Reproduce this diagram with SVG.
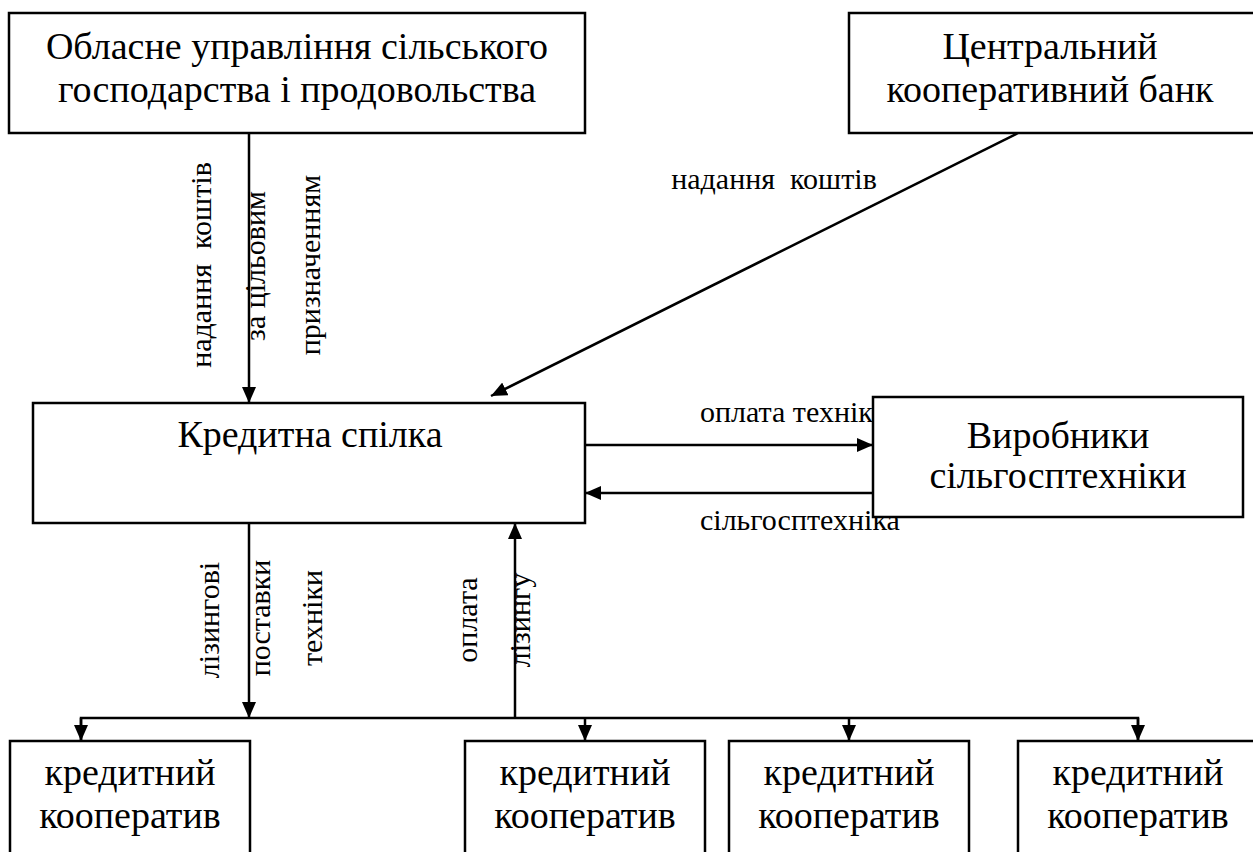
<svg xmlns="http://www.w3.org/2000/svg" width="1253" height="852" viewBox="0 0 1253 852">
<defs>
<marker id="ah" markerWidth="16" markerHeight="14" refX="16" refY="7" orient="auto" markerUnits="userSpaceOnUse">
<path d="M0,0 L16,7 L0,14 Z" fill="#000"/>
</marker>
</defs>
<style>
.box{fill:#fff;stroke:#000;stroke-width:2.5}
.t{font-family:"Liberation Serif","Times New Roman",serif;font-size:38px;fill:#000;text-anchor:middle}
.l{font-family:"Liberation Serif","Times New Roman",serif;font-size:30px;fill:#000;text-anchor:middle;white-space:pre}
.c{stroke:#000;stroke-width:2.5;fill:none}
.a{marker-end:url(#ah)}
</style>
<rect width="1253" height="852" fill="#fff"/>
<g id="connectors">
<line class="c a" x1="249" y1="133" x2="249" y2="403"/>
<line class="c a" x1="1018" y1="133" x2="491" y2="396"/>
<line class="c a" x1="585" y1="445" x2="873" y2="445"/>
<line class="c a" x1="873" y1="493" x2="585" y2="493"/>
<line class="c a" x1="249" y1="523" x2="249" y2="718"/>
<line class="c a" x1="515" y1="718" x2="515" y2="523"/>
<polyline class="c" points="81,741 81,718 1138,718 1138,741"/>
<line class="c a" x1="81" y1="718" x2="81" y2="741"/>
<line class="c a" x1="585" y1="718" x2="585" y2="741"/>
<line class="c a" x1="849" y1="718" x2="849" y2="741"/>
<line class="c a" x1="1138" y1="718" x2="1138" y2="741"/>
<text class="l" xml:space="preserve" transform="translate(211,265) rotate(-90)">надання  коштів</text>
<text class="l" transform="translate(265,266) rotate(-90)">за цільовим</text>
<text class="l" transform="translate(320,265) rotate(-90)">призначенням</text>
<text class="l" xml:space="preserve" x="774" y="189">надання  коштів</text>
<text class="l" x="700" y="422" style="text-anchor:start">оплата техніки</text>
<text class="l" x="700" y="530" style="text-anchor:start">сільгосптехніка</text>
<text class="l" transform="translate(219,620) rotate(-90)">лізингові</text>
<text class="l" transform="translate(270,618) rotate(-90)">поставки</text>
<text class="l" transform="translate(322,618) rotate(-90)">техніки</text>
<text class="l" transform="translate(477,620) rotate(-90)">оплата</text>
<text class="l" transform="translate(530,620) rotate(-90)">лізингу</text>
</g>
<g id="n-oblast">
<rect class="box" x="9" y="13" width="576" height="120"/>
<text class="t" x="297" y="59">Обласне управління сільського</text>
<text class="t" x="297" y="102">господарства і продовольства</text>
</g>
<g id="n-bank">
<rect class="box" x="849" y="13" width="420" height="120"/>
<text class="t" x="1050" y="59">Центральний</text>
<text class="t" x="1050" y="102">кооперативний банк</text>
</g>
<g id="n-spilka">
<rect class="box" x="33" y="403" width="552" height="120"/>
<text class="t" x="310" y="447">Кредитна спілка</text>
</g>
<g id="n-vyrobnyky">
<rect class="box" x="873" y="397" width="370" height="120"/>
<text class="t" x="1058" y="448">Виробники</text>
<text class="t" x="1058" y="488">сільгосптехніки</text>
</g>
<g id="n-koop1">
<rect class="box" x="10" y="741" width="240" height="130"/>
<text class="t" x="130" y="785">кредитний</text>
<text class="t" x="130" y="828">кооператив</text>
</g>
<g id="n-koop2">
<rect class="box" x="465" y="741" width="240" height="130"/>
<text class="t" x="585" y="785">кредитний</text>
<text class="t" x="585" y="828">кооператив</text>
</g>
<g id="n-koop3">
<rect class="box" x="729" y="741" width="240" height="130"/>
<text class="t" x="849" y="785">кредитний</text>
<text class="t" x="849" y="828">кооператив</text>
</g>
<g id="n-koop4">
<rect class="box" x="1018" y="741" width="260" height="130"/>
<text class="t" x="1138" y="785">кредитний</text>
<text class="t" x="1138" y="828">кооператив</text>
</g>
</svg>
